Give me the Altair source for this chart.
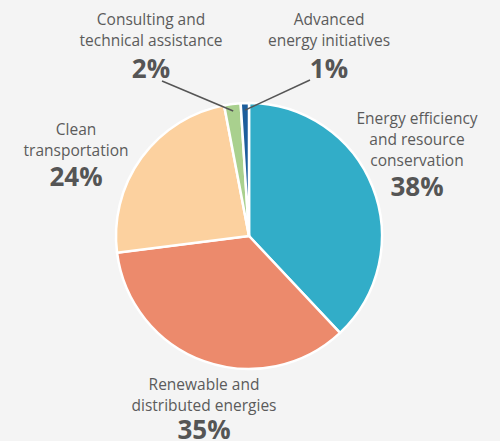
import altair as alt
import pandas as pd

# ---------------- data ----------------
categories = [
    "Energy efficiency and resource conservation",
    "Renewable and distributed energies",
    "Clean transportation",
    "Consulting and technical assistance",
    "Advanced energy initiatives",
]
values = [38, 35, 24, 2, 1]
name_lines = [
    ["Energy efficiency", "and resource", "conservation"],
    ["Renewable and", "distributed energies"],
    ["Clean", "transportation"],
    ["Consulting and", "technical assistance"],
    ["Advanced", "energy initiatives"],
]
pct_labels = ["38%", "35%", "24%", "2%", "1%"]
colors = ["#32adc8", "#ec8a6c", "#fcd19f", "#a9d08e", "#1d5e9c"]

# ---------------- layout (page pixels) ----------------
TOP = 31
W, H = 498, 410
CX, CY, R = 249, 236 - TOP, 133
FONT = "Open Sans"
TEXT_COLOR = "#5b5b5b"
label_x = [417, 204, 76, 151, 329]
name_base = [124, 390, 135, 25, 25]
pct_base = [196, 439, 186, 78, 78]
leader_end_x = [None, None, None, 162, 310]
leader_end_y = [None, None, None, 81, 80]

df = pd.DataFrame({
    "category": categories,
    "value": values,
    "order": list(range(len(categories))),
    "lines": name_lines,
    "pct": pct_labels,
    "lx": label_x,
    "ny": [v - TOP for v in name_base],
    "py": [v - TOP for v in pct_base],
    "ex": leader_end_x,
    "ey": [None if v is None else v - TOP for v in leader_end_y],
})

base = alt.Chart(df)

pie = base.mark_arc(outerRadius=R, stroke="white", strokeWidth=2.5).encode(
    theta=alt.Theta("value:Q", stack=True),
    color=alt.Color("category:N", scale=alt.Scale(domain=categories, range=colors), legend=None),
    order=alt.Order("order:Q"),
)

names = base.mark_text(
    font=FONT, fontSize=15.5, color=TEXT_COLOR, align="center",
    baseline="alphabetic", lineHeight=21,
).encode(
    x=alt.X("lx:Q", scale=None),
    y=alt.Y("ny:Q", scale=None),
    text=alt.Text("lines"),
)

pcts = base.mark_text(
    font=FONT, fontSize=26, fontWeight="bold", color="#555555",
    align="center", baseline="alphabetic",
).encode(
    x=alt.X("lx:Q", scale=None),
    y=alt.Y("py:Q", scale=None),
    text=alt.Text("pct:N"),
)

leaders = base.transform_joinaggregate(
    total="sum(value)"
).transform_window(
    cum="sum(value)", sort=[alt.SortField("order")], frame=[None, 0]
).transform_calculate(
    mid="(datum.cum - datum.value / 2) / datum.total * 2 * PI",
    sx=f"{CX} + {R - 7} * sin(datum.mid)",
    sy=f"{CY} - {R - 7} * cos(datum.mid)",
).transform_filter(
    "isValid(datum.ex)"
).mark_rule(color="#555555", strokeWidth=1.5).encode(
    x=alt.X("sx:Q", scale=None),
    y=alt.Y("sy:Q", scale=None),
    x2="ex:Q",
    y2="ey:Q",
)

chart = alt.layer(pie, leaders, names, pcts).properties(
    width=W, height=H,
    autosize=alt.AutoSizeParams(type="none"),
    padding={"top": TOP, "left": 0, "right": 500 - W, "bottom": 0},
    background="#f4f4f4",
).configure_view(stroke=None)

chart.save("out.html", embed_options={"renderer": "svg", "actions": False})
